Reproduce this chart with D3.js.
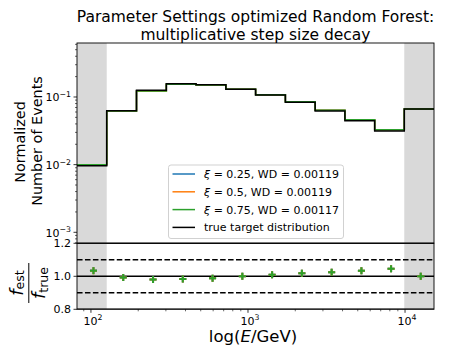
<!DOCTYPE html>
<html><head><meta charset="utf-8">
<script src="https://cdn.jsdelivr.net/npm/d3@7"></script>
<style>
body{margin:0;background:#fff}
svg{display:block}
text{font-family:"DejaVu Sans",sans-serif;fill:#000}
</style>
</head><body>
<svg id="c" width="450" height="356"></svg>
<script>
// ---- data ----
const binEdges = [81.5, 126, 195, 302, 467, 723, 1118, 1730, 2677, 4142, 6408, 9890, 15290];
const trueDist = [0.0096, 0.0627, 0.1256, 0.157, 0.152, 0.130, 0.107, 0.0835, 0.0621, 0.0447, 0.0314, 0.0665];
const ratioXi025 = [1.035, 0.992, 0.980, 0.984, 0.988, 1.000, 1.010, 1.018, 1.024, 1.034, 1.046, 1.000];
const ratioXi05  = [1.034, 0.992, 0.980, 0.984, 0.988, 1.000, 1.010, 1.018, 1.024, 1.034, 1.046, 1.000];
const ratioXi075 = [1.034, 0.992, 0.980, 0.984, 0.988, 1.000, 1.010, 1.018, 1.024, 1.034, 1.046, 1.000];
const seriesXi = ["0.25", "0.5", "0.75"];
const seriesWD = ["0.00119", "0.00119", "0.00117"];
const seriesColors = ["#1f77b4", "#ff7f0e", "#2ca02c"];
const trueLabel = "true target distribution";
const xTicks = [100, 1000, 10000];
const xTickExp = ["2", "3", "4"];
const yTopTicks = [1e-3, 1e-2, 1e-1];
const yTopTickExp = ["\u22123", "\u22122", "\u22121"];
const ratioTicks = [0.8, 1.0, 1.2];
const ratioTickLabels = ["0.8", "1.0", "1.2"];
const ratioLines = [1.2, 1.0, 0.8];
const ratioDashed = [1.1, 0.9];
const titleLines = ["Parameter Settings optimized Random Forest:", "multiplicative step size decay"];

const ratios = [ratioXi025, ratioXi05, ratioXi075];

// ---- layout ----
const L = 77, R = 434, T1 = 43, B1 = 243, T2 = 243.3, B2 = 309.3;
const svg = d3.select("#c");

const x = d3.scaleLog().domain([binEdges[0], binEdges[binEdges.length - 1]]).range([L, R]);
const yTop = d3.scaleLog().domain([Math.pow(10, -3.158), Math.pow(10, -0.202)]).range([B1, T1]);
const yR = d3.scaleLinear().domain([0.8, 1.2]).range([B2, T2]);

const defs = svg.append("defs");
defs.append("clipPath").attr("id", "cp1").append("rect").attr("x", L).attr("y", T1).attr("width", R - L).attr("height", B1 - T1);
defs.append("clipPath").attr("id", "cp2").append("rect").attr("x", L).attr("y", T2).attr("width", R - L).attr("height", B2 - T2);

const grey = "#d9d9d9";
const nB = trueDist.length;
const greySpans = [[binEdges[0], binEdges[1]], [binEdges[nB - 1], binEdges[nB]]];

// ---- top panel ----
const g1 = svg.append("g").attr("clip-path", "url(#cp1)");
g1.selectAll("rect.gs").data(greySpans).join("rect")
  .attr("x", d => x(d[0])).attr("width", d => x(d[1]) - x(d[0]))
  .attr("y", T1).attr("height", B1 - T1).attr("fill", grey);

const stepLine = d3.line().x(d => x(d[0])).y(d => yTop(d[1])).curve(d3.curveStepAfter);
function stepPts(vals) {
  const p = vals.map((v, i) => [binEdges[i], v]);
  p.push([binEdges[vals.length], vals[vals.length - 1]]);
  return p;
}
ratios.forEach((r, k) => {
  const est = trueDist.map((v, i) => v * r[i]);
  g1.append("path").attr("d", stepLine(stepPts(est))).attr("fill", "none")
    .attr("stroke", seriesColors[k]).attr("stroke-width", 1.5);
});
g1.append("path").attr("d", stepLine(stepPts(trueDist))).attr("fill", "none")
  .attr("stroke", "#000").attr("stroke-width", 1.5);

// top y axis ticks
const topAxis = svg.append("g");
const [yMin, yMax] = yTop.domain();
const minorTop = [];
for (let e = -4; e <= 0; e++) for (let m = 2; m <= 9; m++) {
  const v = m * Math.pow(10, e);
  if (v >= yMin && v <= yMax) minorTop.push(v);
}
topAxis.selectAll("line.mn").data(minorTop).join("line")
  .attr("x1", L - 2).attr("x2", L).attr("y1", d => yTop(d)).attr("y2", d => yTop(d))
  .attr("stroke", "#000").attr("stroke-width", 0.6);
topAxis.selectAll("line.mj").data(yTopTicks).join("line")
  .attr("x1", L - 3.5).attr("x2", L).attr("y1", d => yTop(d)).attr("y2", d => yTop(d))
  .attr("stroke", "#000").attr("stroke-width", 0.8);
yTopTicks.forEach((t, i) => {
  const tx = topAxis.append("text").attr("x", L - 6).attr("y", yTop(t) + 4.5)
    .attr("text-anchor", "end").attr("font-size", 11);
  tx.append("tspan").text("10");
  tx.append("tspan").attr("dy", -4.5).attr("font-size", 7.8).text(yTopTickExp[i]);
});

svg.append("rect").attr("x", L).attr("y", T1).attr("width", R - L).attr("height", B1 - T1)
  .attr("fill", "none").attr("stroke", "#000").attr("stroke-width", 0.9);

// ---- ratio panel ----
const g2 = svg.append("g").attr("clip-path", "url(#cp2)");
g2.selectAll("rect.gs").data(greySpans).join("rect")
  .attr("x", d => x(d[0])).attr("width", d => x(d[1]) - x(d[0]))
  .attr("y", T2).attr("height", B2 - T2).attr("fill", grey);
g2.selectAll("line.sl").data(ratioLines).join("line")
  .attr("x1", L).attr("x2", R).attr("y1", d => yR(d)).attr("y2", d => yR(d))
  .attr("stroke", "#000").attr("stroke-width", 1.5);
g2.selectAll("line.dl").data(ratioDashed).join("line")
  .attr("x1", L).attr("x2", R).attr("y1", d => yR(d)).attr("y2", d => yR(d))
  .attr("stroke", "#000").attr("stroke-width", 1.5).attr("stroke-dasharray", "5.55,2.4");

const centers = trueDist.map((_, i) => (binEdges[i] + binEdges[i + 1]) / 2);
ratios.forEach((r, k) => {
  const gg = g2.append("g").attr("stroke", seriesColors[k]).attr("stroke-width", 2);
  r.forEach((v, i) => {
    const cx = x(centers[i]), cy = yR(v), h = 3.5;
    gg.append("line").attr("x1", cx - h).attr("x2", cx + h).attr("y1", cy).attr("y2", cy);
    gg.append("line").attr("x1", cx).attr("x2", cx).attr("y1", cy - h).attr("y2", cy + h);
  });
});

svg.append("rect").attr("x", L).attr("y", T2).attr("width", R - L).attr("height", B2 - T2)
  .attr("fill", "none").attr("stroke", "#000").attr("stroke-width", 0.9);

// ratio y ticks
const ra = svg.append("g");
ra.selectAll("line").data(ratioTicks).join("line")
  .attr("x1", L - 3.5).attr("x2", L).attr("y1", d => yR(d)).attr("y2", d => yR(d))
  .attr("stroke", "#000").attr("stroke-width", 0.8);
ra.selectAll("text").data(ratioTicks).join("text")
  .attr("x", L - 6).attr("y", d => yR(d) + 4).attr("text-anchor", "end").attr("font-size", 11)
  .text((d, i) => ratioTickLabels[i]);

// x ticks
const xa = svg.append("g");
const [xMin, xMax] = x.domain();
const minorX = [];
for (let e = 1; e <= 4; e++) for (let m = 2; m <= 9; m++) {
  const v = m * Math.pow(10, e);
  if (v >= xMin && v <= xMax) minorX.push(v);
}
xa.selectAll("line.mn").data(minorX).join("line")
  .attr("x1", d => x(d)).attr("x2", d => x(d)).attr("y1", B2).attr("y2", B2 + 2)
  .attr("stroke", "#000").attr("stroke-width", 0.6);
xa.selectAll("line.mj").data(xTicks).join("line")
  .attr("x1", d => x(d)).attr("x2", d => x(d)).attr("y1", B2).attr("y2", B2 + 3.5)
  .attr("stroke", "#000").attr("stroke-width", 0.8);
xTicks.forEach((t, i) => {
  const tx = xa.append("text").attr("x", x(t) + 2).attr("y", 324.5)
    .attr("text-anchor", "middle").attr("font-size", 11);
  tx.append("tspan").text("10");
  tx.append("tspan").attr("dy", -4.5).attr("font-size", 7.8).text(xTickExp[i]);
});

// x label
const xl = svg.append("text").attr("x", 253).attr("y", 342).attr("text-anchor", "middle").attr("font-size", 16.5);
xl.append("tspan").text("log(");
xl.append("tspan").attr("font-style", "italic").text("E");
xl.append("tspan").text("/GeV)");

// top y label
svg.append("text").attr("transform", "translate(25,142) rotate(-90)").attr("text-anchor", "middle")
  .attr("font-size", 14.4).text("Normalized");
svg.append("text").attr("transform", "translate(42,141) rotate(-90)").attr("text-anchor", "middle")
  .attr("font-size", 14.4).text("Number of Events");

// ratio y label (fraction)
const fr = svg.append("g").attr("transform", "translate(28.8,283) rotate(-90)");
const num = fr.append("text").attr("x", 0).attr("y", -6).attr("text-anchor", "middle").attr("font-size", 18);
num.append("tspan").attr("font-style", "italic").text("f");
num.append("tspan").attr("font-size", 12.6).attr("dy", 1.5).text("est");
fr.append("line").attr("x1", -20).attr("x2", 20).attr("y1", 0).attr("y2", 0).attr("stroke", "#000").attr("stroke-width", 1);
const den = fr.append("text").attr("x", 0).attr("y", 16.5).attr("text-anchor", "middle").attr("font-size", 18);
den.append("tspan").attr("font-style", "italic").text("f");
den.append("tspan").attr("font-size", 12.6).attr("dy", 2.5).text("true");

// title
svg.selectAll("text.title").data(titleLines).join("text")
  .attr("x", 255.5).attr("y", (d, i) => 21.5 + i * 18).attr("text-anchor", "middle")
  .attr("font-size", 15.5).text(d => d);

// legend
const lg = svg.append("g");
lg.append("rect").attr("x", 168.5).attr("y", 165).attr("width", 175).attr("height", 73.5)
  .attr("rx", 2.5).attr("fill", "#fff").attr("fill-opacity", 0.8).attr("stroke", "#cccccc").attr("stroke-width", 0.9);
const legItems = seriesXi.map((xi, k) => ({xi, wd: seriesWD[k], color: seriesColors[k]}));
legItems.push({xi: null, color: "#000"});
legItems.forEach((it, k) => {
  const yy = 174 + k * 17.8;
  lg.append("line").attr("x1", 172.5).attr("x2", 195).attr("y1", yy).attr("y2", yy)
    .attr("stroke", it.color).attr("stroke-width", 1.5);
  const t = lg.append("text").attr("x", 204).attr("y", yy + 4).attr("font-size", 11);
  if (it.xi === null) { t.text(trueLabel); }
  else {
    t.append("tspan").attr("font-style", "italic").text("\u03be");
    t.append("tspan").text(" = " + it.xi + ", WD = " + it.wd);
  }
});
</script>
</body></html>
